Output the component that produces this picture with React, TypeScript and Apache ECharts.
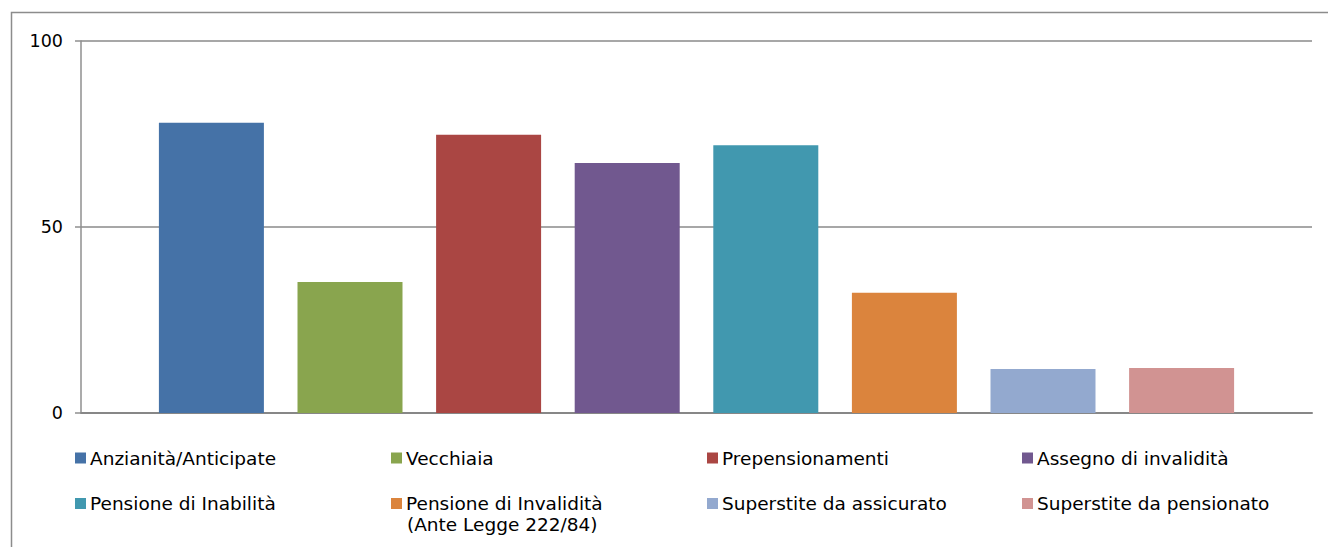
import React, { useEffect, useRef } from "react";
import * as echarts from "echarts";

const seriesNames: string[] = [
  "Anzianità/Anticipate",
  "Vecchiaia",
  "Prepensionamenti",
  "Assegno di invalidità",
  "Pensione di Inabilità",
  "Pensione di Invalidità\n(Ante Legge 222/84)",
  "Superstite da assicurato",
  "Superstite da pensionato",
];
const seriesValues: number[] = [78, 35.2, 74.8, 67.2, 72.0, 32.3, 11.8, 12.1];
const seriesColors: string[] = [
  "#4572A7",
  "#89A54E",
  "#AA4643",
  "#71588F",
  "#4198AF",
  "#DB843D",
  "#93A9CF",
  "#D19392",
];
const yTicks = { min: 0, max: 100, interval: 50 };

const FONT = "DejaVu Sans, Verdana, sans-serif";
const legendCols = [75, 391, 707, 1022];
const legendRows = [458, 503.5];
const LH = 22.5;
const LFS = 18.5;

export default function App() {
  const ref = useRef<HTMLDivElement>(null);
  useEffect(() => {
    if (!ref.current) return;
    const chart = echarts.init(ref.current, undefined, { renderer: "svg" });
    const legends = seriesNames.map((name, i) => ({
      data: [name],
      left: legendCols[i % 4],
      top: legendRows[Math.floor(i / 4)] - LH / 2,
      itemWidth: 11,
      itemHeight: 11,
      itemGap: 0,
      icon: "rect",
      selectedMode: false,
      padding: 0,
      formatter: (n: string) => n.split("\n")[0],
      textStyle: {
        fontFamily: FONT,
        fontSize: LFS,
        color: "#000",
        lineHeight: LH,
        padding: [0, 0, 0, -1],
      },
    }));
    const option: any = {
      animation: false,
      backgroundColor: "#fff",
      textStyle: { fontFamily: FONT },
      graphic: [
        {
          type: "rect",
          shape: { x: 11.5, y: 12.5, width: 1500, height: 700 },
          style: { fill: "none", stroke: "#8c8c8c", lineWidth: 1.5 },
          silent: true,
        },
        {
          type: "text",
          left: legendCols[1] + 16,
          top: legendRows[1] + LH / 2,
          style: {
            text: seriesNames[5].split("\n")[1],
            font: `${LFS}px ${FONT}`,
            fill: "#000",
          },
        },
      ],
      legend: legends,
      grid: { left: 81, top: 41, right: 16, bottom: 134, containLabel: false },
      xAxis: {
        type: "category",
        data: [""],
        axisTick: { show: false },
        axisLabel: { show: false },
        axisLine: { lineStyle: { color: "#878787", width: 2 } },
      },
      yAxis: {
        type: "value",
        min: yTicks.min,
        max: yTicks.max,
        interval: yTicks.interval,
        axisLine: { show: true, lineStyle: { color: "#8f8f8f", width: 1.5 } },
        axisTick: { show: true, length: 6, lineStyle: { color: "#8f8f8f", width: 1.5 } },
        axisLabel: { margin: 18, fontSize: 17.5, color: "#000", fontFamily: FONT },
        splitLine: { show: true, lineStyle: { color: "#8a8a8a", width: 1.5 } },
      },
      series: seriesNames.map((name, i) => ({
        name,
        type: "bar",
        data: [seriesValues[i]],
        barWidth: 105,
        barGap: "32%",
        itemStyle: { color: seriesColors[i] },
      })),
    };
    chart.setOption(option);
    return () => chart.dispose();
  }, []);
  return (
    <div
      ref={ref}
      style={{ position: "absolute", left: 0, top: 0, width: 1328, height: 547 }}
    />
  );
}
